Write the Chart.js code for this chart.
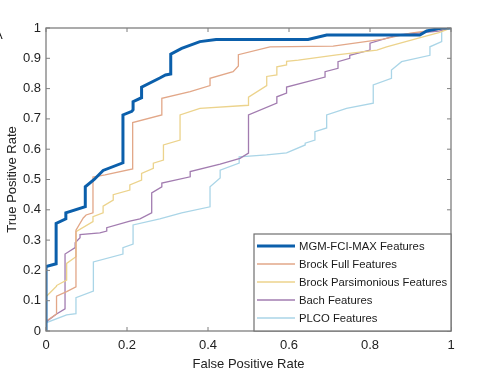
<!DOCTYPE html>
<html><head><meta charset="utf-8">
<script src="https://cdn.jsdelivr.net/npm/chart.js@4/dist/chart.umd.min.js"></script>
<style>html,body{margin:0;padding:0;background:#fff}#wrap{width:500px;height:372px}</style>
</head><body><div id="wrap"><canvas id="c" width="500" height="372"></canvas></div>
<script>
const seriesNames = ["MGM-FCI-MAX Features","Brock Full Features","Brock Parsimonious Features","Bach Features","PLCO Features"];
const xTicks = [0,0.2,0.4,0.6,0.8,1];
const yTicks = [0,0.1,0.2,0.3,0.4,0.5,0.6,0.7,0.8,0.9,1];

const mgmFPR = [0,0,0.025,0.025,0.049,0.049,0.097,0.097,0.119,0.141,0.19,0.19,0.212,0.215,0.215,0.236,0.236,0.281,0.295,0.308,0.308,0.335,0.38,0.42,0.647,0.693,0.923,0.94,0.977,1];
const mgmTPR = [0,0.213,0.222,0.355,0.37,0.39,0.41,0.476,0.5,0.53,0.555,0.713,0.725,0.73,0.757,0.77,0.805,0.835,0.845,0.848,0.914,0.933,0.955,0.962,0.962,0.977,0.977,0.99,1,1];

const brockFPR = [0,0.026,0.026,0.051,0.074,0.074,0.092,0.099,0.116,0.116,0.146,0.214,0.214,0.286,0.286,0.356,0.405,0.405,0.462,0.475,0.475,0.553,0.709,0.833,0.9,0.97,1];
const brockTPR = [0.032,0.056,0.115,0.13,0.146,0.333,0.373,0.383,0.39,0.508,0.515,0.535,0.688,0.713,0.768,0.79,0.81,0.834,0.856,0.875,0.912,0.938,0.94,0.963,0.983,0.995,1];

const parsFPR = [0,0.026,0.026,0.051,0.051,0.074,0.074,0.116,0.116,0.141,0.141,0.166,0.166,0.207,0.207,0.236,0.236,0.265,0.265,0.29,0.29,0.331,0.331,0.38,0.5,0.5,0.545,0.545,0.57,0.57,0.594,0.594,0.623,0.718,0.817,0.841,0.931,0.97,1];
const parsTPR = [0.113,0.148,0.15,0.168,0.223,0.245,0.328,0.361,0.377,0.39,0.412,0.432,0.45,0.465,0.482,0.498,0.52,0.537,0.554,0.564,0.614,0.63,0.713,0.735,0.745,0.772,0.81,0.84,0.845,0.872,0.878,0.89,0.894,0.911,0.927,0.938,0.971,0.985,1];

const bachFPR = [0,0.026,0.047,0.047,0.072,0.072,0.084,0.084,0.133,0.15,0.15,0.207,0.232,0.261,0.261,0.286,0.286,0.356,0.356,0.43,0.479,0.5,0.5,0.57,0.57,0.594,0.594,0.689,0.689,0.721,0.721,0.75,0.75,0.8,0.8,0.869,0.97,1];
const bachTPR = [0.03,0.056,0.073,0.254,0.275,0.291,0.308,0.318,0.324,0.33,0.341,0.363,0.37,0.39,0.456,0.476,0.488,0.509,0.526,0.551,0.57,0.587,0.713,0.752,0.773,0.785,0.805,0.838,0.856,0.867,0.889,0.9,0.91,0.927,0.95,0.977,0.99,1];

const plcoFPR = [0,0.051,0.074,0.074,0.117,0.117,0.19,0.19,0.215,0.215,0.281,0.335,0.405,0.405,0.43,0.43,0.477,0.477,0.545,0.594,0.64,0.64,0.664,0.664,0.693,0.693,0.742,0.808,0.808,0.853,0.853,0.878,0.948,0.948,0.977,0.977,1];
const plcoTPR = [0.027,0.053,0.057,0.11,0.132,0.228,0.254,0.275,0.287,0.35,0.37,0.39,0.41,0.476,0.505,0.531,0.554,0.575,0.581,0.588,0.614,0.62,0.63,0.658,0.67,0.713,0.735,0.752,0.812,0.834,0.861,0.889,0.91,0.938,0.955,1,1];

const allX = [mgmFPR,brockFPR,parsFPR,bachFPR,plcoFPR];
const allY = [mgmTPR,brockTPR,parsTPR,bachTPR,plcoTPR];
const colors = ["#0b5fab","#e2a788","#ecd38c","#a27cb0","#aad5e7"];
const widths = [3,1.3,1.3,1.3,1.3];

const datasets = seriesNames.map((n,i)=>({
  label:n,
  data: allX[i].map((x,j)=>({x:x,y:allY[i][j]})),
  borderColor: colors[i], borderWidth: widths[i], pointRadius:0, tension:0, fill:false,
  order: i===0 ? 0 : i+1
}));
const FONT = "'Liberation Sans', Arial, sans-serif";
const axisGray = "#7f7f7f";

const decor = {
  id:'decor',
  afterDraw(chart){
    const ctx = chart.ctx, a = chart.chartArea;
    const xs = chart.scales.x, ys = chart.scales.y;
    ctx.save();
    ctx.strokeStyle = axisGray; ctx.lineWidth = 1.3;
    ctx.strokeRect(a.left, a.top, a.right-a.left, a.bottom-a.top);
    ctx.lineWidth = 1;
    const tl = 4;
    xTicks.forEach(v=>{ const p = xs.getPixelForValue(v);
      ctx.beginPath(); ctx.moveTo(p,a.bottom); ctx.lineTo(p,a.bottom-tl); ctx.moveTo(p,a.top); ctx.lineTo(p,a.top+tl); ctx.stroke(); });
    yTicks.forEach(v=>{ const p = ys.getPixelForValue(v);
      ctx.beginPath(); ctx.moveTo(a.left,p); ctx.lineTo(a.left+tl,p); ctx.moveTo(a.right,p); ctx.lineTo(a.right-tl,p); ctx.stroke(); });
    // legend
    const lx = 254, ly = 234, lw = a.right - lx, lh = a.bottom - ly;
    ctx.fillStyle = "#fff"; ctx.fillRect(lx,ly,lw,lh);
    ctx.strokeStyle = "#6f6f6f"; ctx.lineWidth = 1.2; ctx.strokeRect(lx,ly,lw,lh);
    ctx.font = "11.3px " + FONT; ctx.textBaseline = "middle"; ctx.textAlign = "left"; ctx.fillStyle = "#1a1a1a";
    seriesNames.forEach((n,i)=>{
      const y = 246 + i*18;
      ctx.strokeStyle = colors[i]; ctx.lineWidth = widths[i];
      ctx.beginPath(); ctx.moveTo(257,y); ctx.lineTo(295,y); ctx.stroke();
      ctx.fillText(n, 299, y+0.5);
    });
    ctx.font = "13px " + FONT; ctx.textAlign="left"; ctx.fillStyle="#222";
    ctx.fillText("A", -6, 35);
    ctx.restore();
  }
};

new Chart(document.getElementById('c'), {
  type:'line',
  data:{datasets},
  options:{
    responsive:false, animation:false, devicePixelRatio:1,
    layout:{padding:{left:0,right:49,top:28,bottom:0}},
    plugins:{legend:{display:false}, tooltip:{enabled:false}},
    scales:{
      x:{type:'linear', min:0, max:1,
        afterBuildTicks(s){ s.ticks = xTicks.map(v=>({value:v})); },
        afterFit(s){ s.height = 41; },
        grid:{display:false, drawTicks:false}, border:{display:false},
        ticks:{color:"#222", font:{family:FONT,size:13}, padding:7, maxRotation:0,
          callback:v=>String(v)},
        title:{display:true, text:"False Positive Rate", color:"#222", font:{family:FONT,size:13}, padding:{top:3,bottom:0}}
      },
      y:{type:'linear', min:0, max:1,
        afterBuildTicks(s){ s.ticks = yTicks.map(v=>({value:v})); },
        afterFit(s){ s.width = 46; },
        grid:{display:false, drawTicks:false}, border:{display:false},
        ticks:{color:"#222", font:{family:FONT,size:13}, padding:5, callback:v=>String(v)},
        title:{display:true, text:"True Positive Rate", color:"#222", font:{family:FONT,size:13}, padding:{top:5,bottom:2}}
      }
    }
  },
  plugins:[decor]
});
</script></body></html>
